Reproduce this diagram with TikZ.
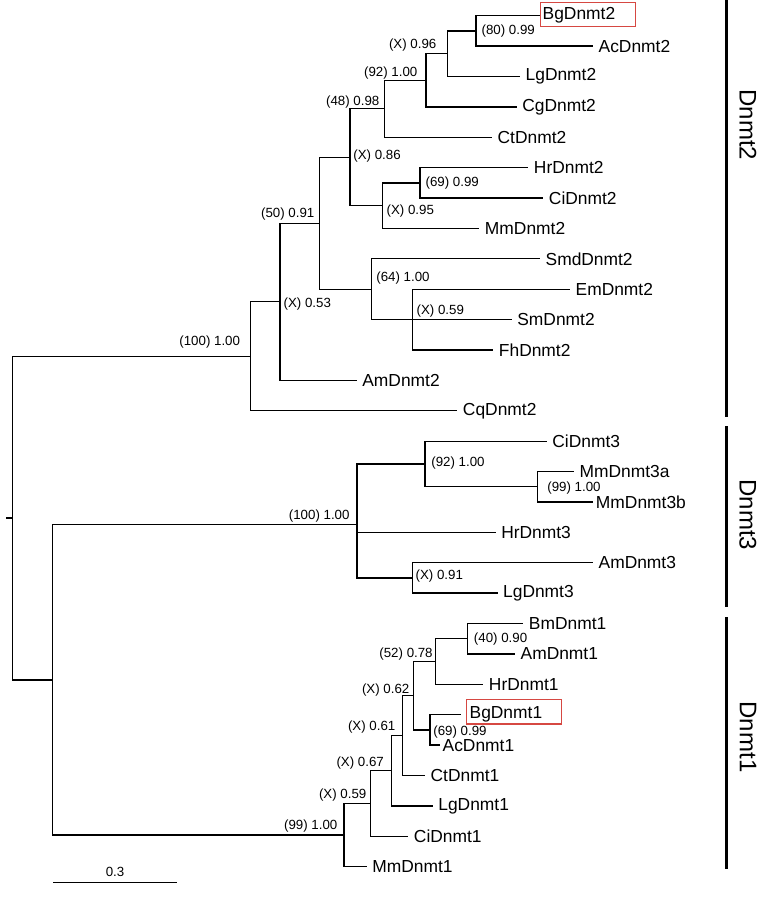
\documentclass[tikz,border=0pt]{standalone}
\usepackage{fontspec}
\setmainfont{Liberation Sans}
\usepackage{tikz}
\definecolor{boxred}{RGB}{214,72,66}
\begin{document}
\begin{tikzpicture}[x=1pt,y=-1pt,line width=1.3pt]
\tikzstyle{every node}+=[inner sep=0pt]
\tikzstyle{leaf}=[anchor=west,inner xsep=5pt,font=\fontsize{17.4}{20}\selectfont]
\tikzstyle{bs}=[font=\fontsize{13.3}{15}\selectfont]
\tikzstyle{clade}=[rotate=-90,font=\fontsize{24}{28}\selectfont]
\tikzstyle{cladebar}=[line width=3pt]
\tikzstyle{hl}=[draw=boxred,line width=1.2pt]
\useasboundingbox (0,0) rectangle (764,902);
\coordinate (stem) at (6,518.1);
\coordinate (root) at (12.3,518.1);
\coordinate (n100a) at (250.3,356.3);
\coordinate (nX53) at (280,301.8);
\coordinate (n50) at (319.3,223.2);
\coordinate (nX86) at (350,157.2);
\coordinate (n48) at (384.3,108.8);
\coordinate (n92a) at (426,80.3);
\coordinate (nX96) at (447.7,53.7);
\coordinate (n80) at (476,30.9);
\coordinate (nX95) at (382.7,205.6);
\coordinate (n69a) at (420,182.85);
\coordinate (n64) at (371.7,289.2);
\coordinate (nX59a) at (412.5,319.6);
\coordinate (n31) at (52.3,679.9);
\coordinate (n100b) at (357,524.7);
\coordinate (n92b) at (425,464);
\coordinate (n99a) at (537.7,486.8);
\coordinate (nX91) at (412.2,577.9);
\coordinate (n99b) at (344,835.1);
\coordinate (nX59b) at (370.7,803.5);
\coordinate (nX67) at (391.7,770.75);
\coordinate (nX61) at (402.7,735.6);
\coordinate (nX62) at (413.3,695.7);
\coordinate (n52) at (435.7,661.5);
\coordinate (n40) at (467.3,638.7);
\coordinate (n69b) at (430,729.9);
\node[leaf,inner xsep=2pt] (BgDnmt2) at (540,15.7) {BgDnmt2};
\node[leaf] (AcDnmt2) at (593,46.1) {AcDnmt2};
\node[leaf] (LgDnmt2) at (520,76.5) {LgDnmt2};
\node[leaf] (CgDnmt2) at (516.7,106.9) {CgDnmt2};
\node[leaf] (CtDnmt2) at (492,137.3) {CtDnmt2};
\node[leaf] (HrDnmt2) at (528.3,167.7) {HrDnmt2};
\node[leaf] (CiDnmt2) at (543.3,198) {CiDnmt2};
\node[leaf] (MmDnmt2) at (479.3,228.4) {MmDnmt2};
\node[leaf] (SmdDnmt2) at (540,258.8) {SmdDnmt2};
\node[leaf] (EmDnmt2) at (570,289.2) {EmDnmt2};
\node[leaf] (SmDnmt2) at (511.7,319.6) {SmDnmt2};
\node[leaf] (FhDnmt2) at (493.3,350) {FhDnmt2};
\node[leaf] (AmDnmt2) at (356.7,380.4) {AmDnmt2};
\node[leaf] (CqDnmt2) at (457.3,410.8) {CqDnmt2};
\node[leaf] (CiDnmt3) at (546.7,441.2) {CiDnmt3};
\node[leaf] (MmDnmt3a) at (574,471.6) {MmDnmt3a};
\node[leaf,inner xsep=2pt] (MmDnmt3b) at (593.3,502) {MmDnmt3b};
\node[leaf] (HrDnmt3) at (495.6,532.3) {HrDnmt3};
\node[leaf] (AmDnmt3) at (593,562.7) {AmDnmt3};
\node[leaf] (LgDnmt3) at (497.5,593.1) {LgDnmt3};
\node[leaf] (BmDnmt1) at (523.3,623.5) {BmDnmt1};
\node[leaf] (AmDnmt1) at (515,653.9) {AmDnmt1};
\node[leaf] (HrDnmt1) at (483.3,684.3) {HrDnmt1};
\node[leaf,inner xsep=8pt] (BgDnmt1) at (461,714.7) {BgDnmt1};
\node[leaf,inner xsep=2pt] (AcDnmt1) at (440,745.1) {AcDnmt1};
\node[leaf] (CtDnmt1) at (425,775.5) {CtDnmt1};
\node[leaf] (LgDnmt1) at (432.7,805.9) {LgDnmt1};
\node[leaf] (CiDnmt1) at (408.3,836.3) {CiDnmt1};
\node[leaf] (MmDnmt1) at (366.7,866.7) {MmDnmt1};
\node[hl,anchor=north west,minimum width=95pt,minimum height=24.3pt] (hlDnmt2) at (540,1.7) {};
\node[hl,anchor=north west,minimum width=95pt,minimum height=24.6pt] (hlDnmt1) at (465.7,698.7) {};
\draw (stem) -- (root);
\draw (root) |- (n100a);
\draw (root) |- (n31);
\draw (n100a) |- (nX53);
\draw (n100a) |- (CqDnmt2.west);
\draw (nX53) |- (n50);
\draw (nX53) |- (AmDnmt2.west);
\draw (n50) |- (nX86);
\draw (n50) |- (n64);
\draw (nX86) |- (n48);
\draw (nX86) |- (nX95);
\draw (n48) |- (n92a);
\draw (n48) |- (CtDnmt2.west);
\draw (n92a) |- (nX96);
\draw (n92a) |- (CgDnmt2.west);
\draw (nX96) |- (n80);
\draw (nX96) |- (LgDnmt2.west);
\draw (n80) |- (BgDnmt2.west);
\draw (n80) |- (AcDnmt2.west);
\draw (nX95) |- (n69a);
\draw (nX95) |- (MmDnmt2.west);
\draw (n69a) |- (HrDnmt2.west);
\draw (n69a) |- (CiDnmt2.west);
\draw (n64) |- (SmdDnmt2.west);
\draw (n64) |- (nX59a);
\draw (nX59a) |- (EmDnmt2.west);
\draw (nX59a) -- (SmDnmt2.west);
\draw (nX59a) |- (FhDnmt2.west);
\draw (n31) |- (n100b);
\draw (n31) |- (n99b);
\draw (n100b) |- (n92b);
\draw (n100b) |- (HrDnmt3.west);
\draw (n100b) |- (nX91);
\draw (n92b) |- (CiDnmt3.west);
\draw (n92b) |- (n99a);
\draw (n99a) |- (MmDnmt3a.west);
\draw (n99a) |- (MmDnmt3b.west);
\draw (nX91) |- (AmDnmt3.west);
\draw (nX91) |- (LgDnmt3.west);
\draw (n99b) |- (nX59b);
\draw (n99b) |- (MmDnmt1.west);
\draw (nX59b) |- (nX67);
\draw (nX59b) |- (CiDnmt1.west);
\draw (nX67) |- (nX61);
\draw (nX67) |- (LgDnmt1.west);
\draw (nX61) |- (nX62);
\draw (nX61) |- (CtDnmt1.west);
\draw (nX62) |- (n52);
\draw (nX62) |- (n69b);
\draw (n52) |- (n40);
\draw (n52) |- (HrDnmt1.west);
\draw (n40) |- (BmDnmt1.west);
\draw (n40) |- (AmDnmt1.west);
\draw (n69b) |- (BgDnmt1.west);
\draw (n69b) |- (AcDnmt1.west);
\node[bs,anchor=west] (l80) at (481,30.9) {(80) 0.99};
\node[bs,anchor=east] (lX96) at (437,45) {(X) 0.96};
\node[bs,anchor=east] (l92a) at (418,72.7) {(92) 1.00};
\node[bs,anchor=east] (l48) at (380,101.7) {(48) 0.98};
\node[bs,anchor=west] (lX86) at (352.7,156) {(X) 0.86};
\node[bs,anchor=west] (l69a) at (425,183) {(69) 0.99};
\node[bs,anchor=west] (lX95) at (386,210.7) {(X) 0.95};
\node[bs,anchor=east] (l50) at (315,214) {(50) 0.91};
\node[bs,anchor=west] (l64) at (375.7,278.3) {(64) 1.00};
\node[bs,anchor=west] (lX59a) at (416,311) {(X) 0.59};
\node[bs,anchor=west] (lX53) at (283,304) {(X) 0.53};
\node[bs,anchor=east] (l100a) at (240.7,341.7) {(100) 1.00};
\node[bs,anchor=west] (l92b) at (430.7,463.3) {(92) 1.00};
\node[bs,anchor=west] (l99a) at (546.7,488.3) {(99) 1.00};
\node[bs,anchor=east] (l100b) at (350.2,515.7) {(100) 1.00};
\node[bs,anchor=west] (lX91) at (415,576) {(X) 0.91};
\node[bs,anchor=west] (l40) at (473.3,639.3) {(40) 0.90};
\node[bs,anchor=east] (l52) at (433.3,654.3) {(52) 0.78};
\node[bs,anchor=east] (lX62) at (410,690) {(X) 0.62};
\node[bs,anchor=east] (lX61) at (396,727.5) {(X) 0.61};
\node[bs,anchor=west] (l69b) at (432.7,732.3) {(69) 0.99};
\node[bs,anchor=east] (lX67) at (384.5,763) {(X) 0.67};
\node[bs,anchor=east] (lX59b) at (367,794.6) {(X) 0.59};
\node[bs,anchor=east] (l99b) at (338,826.4) {(99) 1.00};
\coordinate (sb0) at (53.3,882.7);
\coordinate (sb1) at (176.7,882.7);
\draw (sb0) -- node[bs,above=5pt] (sblabel) {0.3} (sb1);
\coordinate (bar2a) at (726,0);
\coordinate (bar2b) at (726,417);
\coordinate (bar3a) at (726,426);
\coordinate (bar3b) at (726,607);
\coordinate (bar1a) at (726,617);
\coordinate (bar1b) at (726,869);
\draw[cladebar] (bar2a) -- (bar2b);
\draw[cladebar] (bar3a) -- (bar3b);
\draw[cladebar] (bar1a) -- (bar1b);
\node[clade] (Dnmt2) at (748,125) {Dnmt2};
\node[clade] (Dnmt3) at (748,515) {Dnmt3};
\node[clade] (Dnmt1) at (748,737) {Dnmt1};
\end{tikzpicture}
\end{document}
